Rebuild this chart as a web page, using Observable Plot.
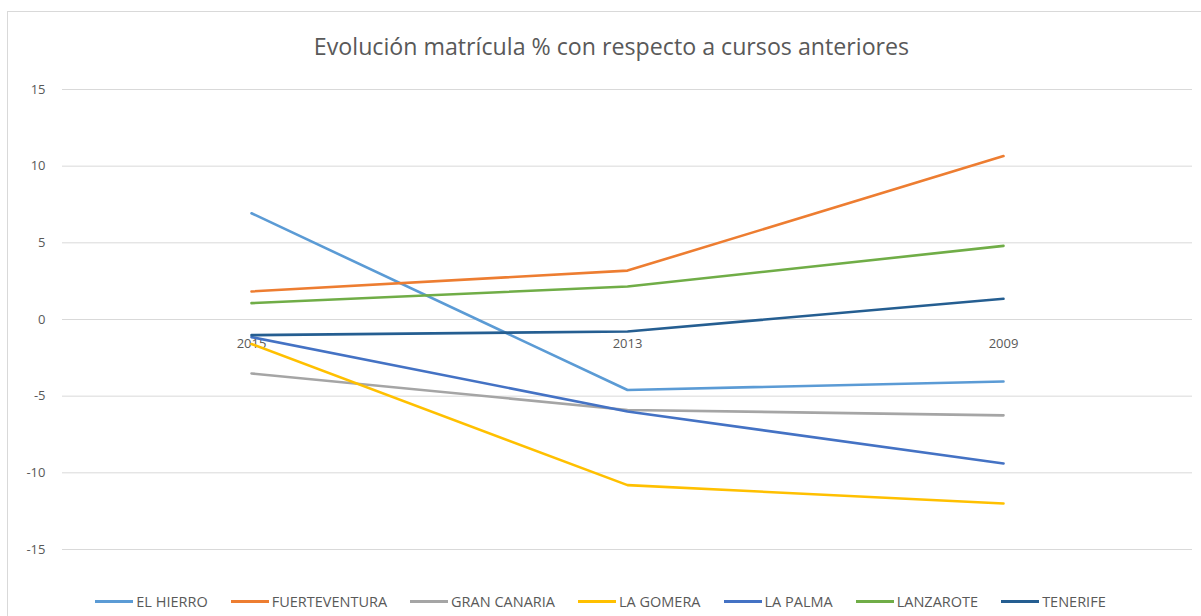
<!DOCTYPE html>
<html>
<head>
<meta charset="utf-8">
<script src="https://cdn.jsdelivr.net/npm/d3@7"></script>
<script src="https://cdn.jsdelivr.net/npm/@observablehq/plot@0.6"></script>
<style>
  body { margin: 0; background: #fff; font-family: "Open Sans", sans-serif; }
  #wrap { position: relative; width: 1201px; height: 616px; overflow: hidden; }
  #frame { position: absolute; left: 7px; top: 11px; width: 1300px; height: 700px;
           border-left: 1px solid #d9d9d9; border-top: 1px solid #d9d9d9; pointer-events: none; }
  #title { height: 70px; box-sizing: border-box; padding-top: 33px; padding-left: 22px; line-height: 26px;
           text-align: center; font-size: 23.2px; color: #595959; }
  #chart svg { display: block; }
  #legend { height: 46px; box-sizing: border-box; padding-top: 17px; display: flex;
            justify-content: center; align-items: center; gap: 23px; font-size: 14.5px; color: #595959; }
  .item { display: flex; align-items: center; line-height: 18px; }
  .sw { width: 38px; height: 3px; margin-right: 3px; }
</style>
</head>
<body>
<div id="wrap">
  <div id="frame"></div>
  <div id="title">Evolución matrícula % con respecto a cursos anteriores</div>
  <div id="chart"></div>
  <div id="legend"></div>
</div>
<script>
const years = ["2015", "2013", "2009"];
const islands = ["EL HIERRO", "FUERTEVENTURA", "GRAN CANARIA", "LA GOMERA", "LA PALMA", "LANZAROTE", "TENERIFE"];
const colors = ["#5B9BD5", "#ED7D31", "#A5A5A5", "#FFC000", "#4472C4", "#70AD47", "#255E91"];
const elHierro      = [6.93, -4.6, -4.04];
const fuerteventura = [1.83, 3.19, 10.66];
const granCanaria   = [-3.52, -5.9, -6.25];
const laGomera      = [-1.6, -10.8, -12.0];
const laPalma       = [-1.15, -6.0, -9.39];
const lanzarote     = [1.07, 2.15, 4.80];
const tenerife      = [-1.02, -0.78, 1.35];
const yTicks = [-15, -10, -5, 0, 5, 10, 15];

const seriesValues = [elHierro, fuerteventura, granCanaria, laGomera, laPalma, lanzarote, tenerife];
const data = islands.flatMap((isl, i) => years.map((yr, j) => ({island: isl, year: yr, value: seriesValues[i][j]})));

const plot = Plot.plot({
  width: 1201,
  height: 500,
  marginTop: 19,
  marginBottom: 21,
  marginLeft: 62,
  marginRight: 9,
  style: {fontFamily: "'Open Sans', sans-serif", fontSize: "13px", color: "#595959", background: "transparent"},
  x: {type: "point", domain: years, padding: 0.5, axis: null},
  y: {domain: [-15, 15], axis: null},
  color: {domain: islands, range: colors},
  marks: [
    Plot.ruleY(yTicks, {stroke: "#d9d9d9", strokeWidth: 1}),
    Plot.axisY({ticks: yTicks, tickSize: 0, tickPadding: 17, fill: "#595959", fontSize: 13, label: null, tickFormat: d => String(d)}),
    Plot.text(years, {x: d => d, y: () => 0, dy: 24, text: d => d, fill: "#595959", fontSize: 13}),
    Plot.line(data, {x: "year", y: "value", z: "island", stroke: "island", strokeWidth: 2.6, curve: "linear"})
  ]
});
document.getElementById("chart").appendChild(plot);

const legend = document.getElementById("legend");
islands.forEach((isl, i) => {
  const it = document.createElement("div");
  it.className = "item";
  const sw = document.createElement("span");
  sw.className = "sw";
  sw.style.background = colors[i];
  const tx = document.createElement("span");
  tx.textContent = isl;
  it.appendChild(sw); it.appendChild(tx);
  legend.appendChild(it);
});
</script>
</body>
</html>
